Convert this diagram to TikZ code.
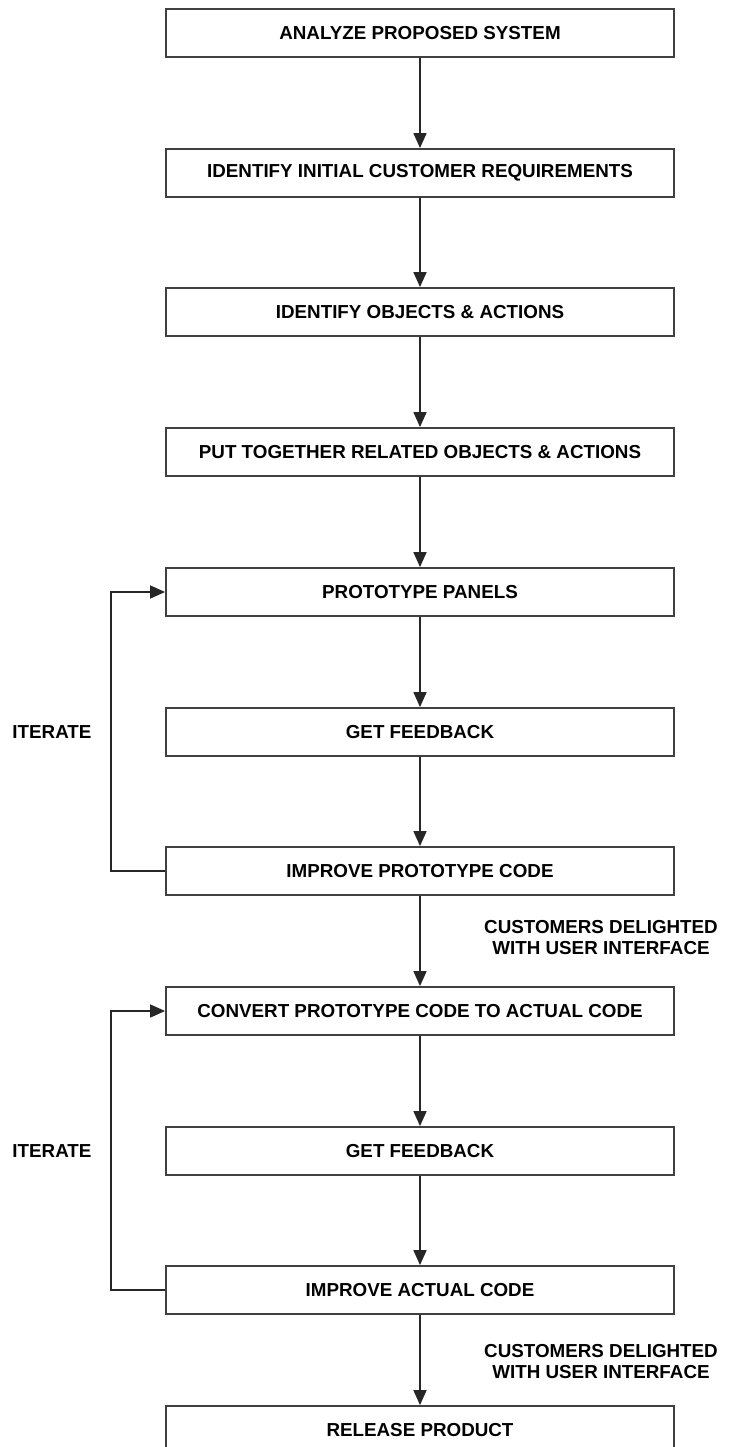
\documentclass[tikz,border=0pt]{standalone}
\usepackage{fontspec}
\setmainfont{Liberation Sans}
\usetikzlibrary{fit,arrows.meta}

\begin{document}
\begin{tikzpicture}[x=1pt, y=-1pt,
    font=\fontsize{18.8}{21}\selectfont\bfseries,
    stepbox/.style={draw=black!75, line width=1.8pt, inner sep=0pt},
    flow/.style={-{Triangle[length=15pt, width=13pt]}, line width=1.6pt, black!85}]
    \useasboundingbox (0,0) rectangle (733,1447);

    \node[stepbox, fit={(166,9) (674,57)}, label=center:{ANALYZE PROPOSED SYSTEM}] (analyze) {};
    \node[stepbox, fit={(166,149) (674,197)}, label=center:{IDENTIFY INITIAL CUSTOMER REQUIREMENTS}] (initreq) {};
    \node[stepbox, fit={(166,288) (674,336)}, label=center:{IDENTIFY OBJECTS \& ACTIONS}] (objacts) {};
    \node[stepbox, fit={(166,428) (674,476)}, label=center:{PUT TOGETHER RELATED OBJECTS \& ACTIONS}] (related) {};

    \node[stepbox, fit={(166,568) (674,616)}, label=center:{PROTOTYPE PANELS}] (panels) {};
    \node[stepbox, fit={(166,708) (674,756)}, label=center:{GET FEEDBACK}] (feedproto) {};
    \node[stepbox, fit={(166,847) (674,895)}, label=center:{IMPROVE PROTOTYPE CODE}] (improveproto) {};

    \node[stepbox, fit={(166,987) (674,1035)}, label=center:{CONVERT PROTOTYPE CODE TO ACTUAL CODE}] (convert) {};
    \node[stepbox, fit={(166,1127) (674,1175)}, label=center:{GET FEEDBACK}] (feedactual) {};
    \node[stepbox, fit={(166,1266) (674,1314)}, label=center:{IMPROVE ACTUAL CODE}] (improveactual) {};
    \node[stepbox, fit={(166,1406) (674,1454)}, label=center:{RELEASE PRODUCT}] (release) {};

    \node[anchor=east] (iterproto) at (95,732) {ITERATE};
    \node[anchor=east] (iteractual) at (95,1151) {ITERATE};
    \node[align=center] (delightproto) at (601,938) {CUSTOMERS DELIGHTED\\WITH USER INTERFACE};
    \node[align=center] (delightactual) at (601,1362) {CUSTOMERS DELIGHTED\\WITH USER INTERFACE};

    \draw[flow] (analyze) -- (initreq);
    \draw[flow] (initreq) -- (objacts);
    \draw[flow] (objacts) -- (related);
    \draw[flow] (related) -- (panels);
    \draw[flow] (panels) -- (feedproto);
    \draw[flow] (feedproto) -- (improveproto);
    \draw[flow] (improveproto) -- (convert);
    \draw[flow] (convert) -- (feedactual);
    \draw[flow] (feedactual) -- (improveactual);
    \draw[flow] (improveactual) -- (release);

    \draw[flow] (improveproto.west) -- ++(-54,0) |- (panels.west);
    \draw[flow] (improveactual.west) -- ++(-54,0) |- (convert.west);
\end{tikzpicture}
\end{document}
